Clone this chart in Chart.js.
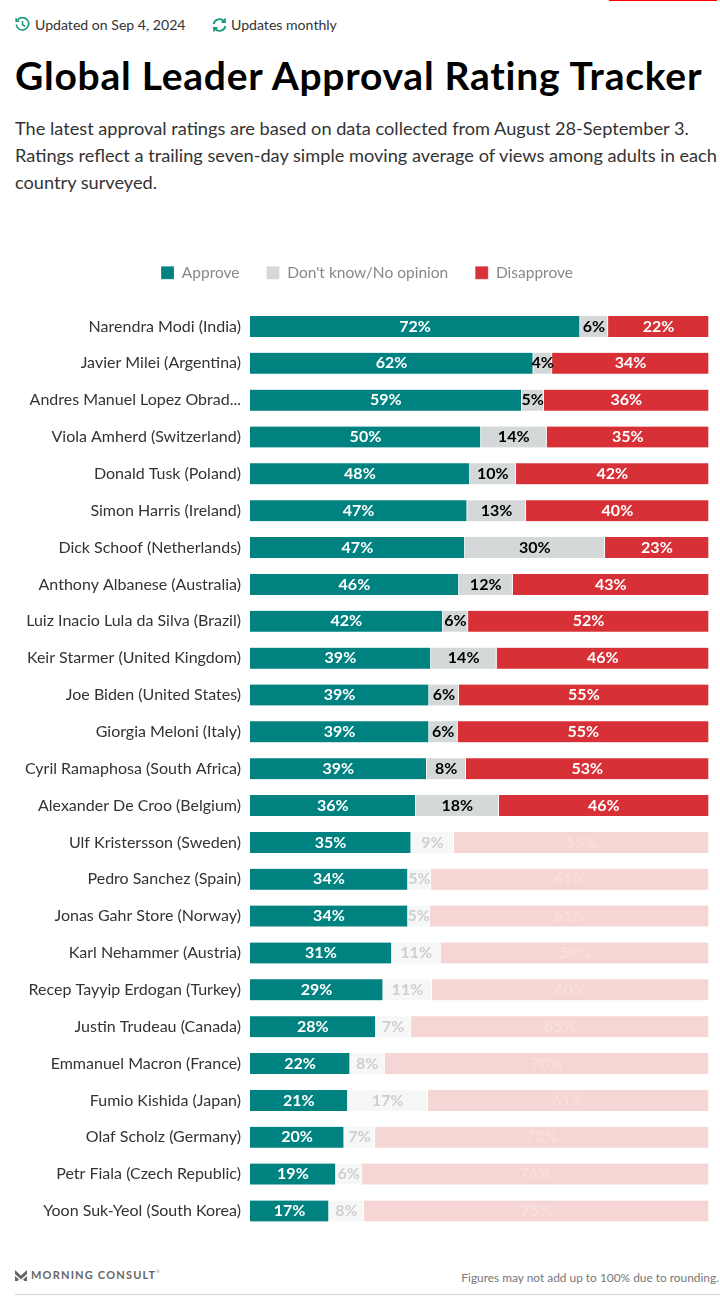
<!DOCTYPE html>
<html>
<head>
<meta charset="utf-8">
<title>Global Leader Approval Rating Tracker</title>
<script src="https://cdn.jsdelivr.net/npm/chart.js@4"></script>
<style>
body { margin: 0; background: #fff; font-family: Lato, sans-serif; width: 720px; height: 1300px; position: relative; overflow: hidden; }
.abs { position: absolute; white-space: nowrap; }
#topline { left: 609px; top: 0; width: 108px; height: 1px; background: #f00; }
.meta { top: 16px; font-size: 14.1px; color: #333; line-height: 18px; }
h1 { margin: 0; left: 15px; top: 51px; font-size: 39px; line-height: 48px; font-weight: 700; letter-spacing: 0.75px; color: #000; }
#intro { left: 15px; top: 115px; font-size: 18.2px; line-height: 27px; color: #333; }
canvas { position: absolute; left: 0; top: 238px; }
#brand { left: 31px; top: 1268px; font-size: 11px; line-height: 14px; font-weight: 700; letter-spacing: 1.2px; color: #666; }
#brand sup { font-size: 4px; font-weight: 400; letter-spacing: 0; vertical-align: 6px; line-height: 0; }
#note { right: 1px; top: 1270px; font-size: 11.9px; line-height: 15px; color: #777; }
#rule { left: 15px; top: 1294px; width: 705px; height: 1px; background: #d4d4d4; }
</style>
</head>
<body>
<div class="abs" id="topline"></div>
<svg class="abs" style="left:15px;top:17px" width="15" height="15" viewBox="0 0 15 15" fill="none" stroke="#1a9a7c" stroke-width="1.6">
  <path d="M2.4 3.2A6.2 6.2 0 1 1 1.3 7.5"/><path d="M1.2 1.2V4.3H4.3"/><path d="M7.5 4v3.8l2.6 1.5"/>
</svg>
<div class="abs meta" style="left:35px">Updated on Sep 4, 2024</div>
<svg class="abs" style="left:212px;top:18px" width="15" height="14" viewBox="0 0 15 14" fill="none" stroke="#1a9a7c" stroke-width="1.8">
  <path d="M1.6 6A6 6 0 0 1 12 3.2"/><path d="M13.4 8A6 6 0 0 1 3 10.8"/><path d="M13 .6V4H9.6"/><path d="M2 13.4V10h3.4"/>
</svg>
<div class="abs meta" style="left:231px">Updates monthly</div>
<h1 class="abs">Global Leader Approval Rating Tracker</h1>
<div class="abs" id="intro">The latest approval ratings are based on data collected from August 28-September 3.<br>Ratings reflect a trailing seven-day simple moving average of views among adults in each<br>country surveyed.</div>
<canvas id="chart" width="720" height="1010"></canvas>
<svg class="abs" style="left:15px;top:1270px" width="12" height="11" viewBox="0 0 12 11" fill="#666">
  <path d="M0 0l6 5.5L12 0v4L6 9.5 0 4z"/><path d="M0 6l4 3.6L2.6 11H0zM12 6L8 9.6 9.4 11H12z"/>
</svg>
<div class="abs" id="brand">MORNING CONSULT<sup>®</sup></div>
<div class="abs" id="note">Figures may not add up to 100% due to rounding.</div>
<div class="abs" id="rule"></div>

<script>
const leaders = [
    "Narendra Modi (India)", "Javier Milei (Argentina)", "Andres Manuel Lopez Obrad...",
    "Viola Amherd (Switzerland)", "Donald Tusk (Poland)", "Simon Harris (Ireland)",
    "Dick Schoof (Netherlands)", "Anthony Albanese (Australia)", "Luiz Inacio Lula da Silva (Brazil)",
    "Keir Starmer (United Kingdom)", "Joe Biden (United States)", "Giorgia Meloni (Italy)",
    "Cyril Ramaphosa (South Africa)", "Alexander De Croo (Belgium)", "Ulf Kristersson (Sweden)",
    "Pedro Sanchez (Spain)", "Jonas Gahr Store (Norway)", "Karl Nehammer (Austria)",
    "Recep Tayyip Erdogan (Turkey)", "Justin Trudeau (Canada)", "Emmanuel Macron (France)",
    "Fumio Kishida (Japan)", "Olaf Scholz (Germany)", "Petr Fiala (Czech Republic)",
    "Yoon Suk-Yeol (South Korea)"
];

// bar lengths (the printed labels are rounded separately)
const approve = [71.9, 61.7, 59.2, 50.3, 47.9, 47.3, 46.8, 45.5, 42.0, 39.4, 39.0, 39.0, 38.5, 36.1, 35.1, 34.4, 34.4, 30.9, 29.0, 27.4, 21.8, 21.3, 20.5, 18.7, 17.2];
const noOpinion = [6.1, 4.1, 4.8, 14.3, 10.0, 12.8, 30.5, 11.7, 5.5, 14.3, 6.5, 6.2, 8.5, 18.1, 9.3, 5.0, 4.7, 10.6, 10.6, 7.6, 7.5, 17.4, 6.7, 5.6, 7.6];
const disapprove = [22.0, 34.2, 36.0, 35.4, 42.1, 39.9, 22.7, 42.8, 52.5, 46.3, 54.5, 54.8, 53.0, 45.8, 55.6, 60.6, 60.9, 58.5, 60.4, 65.0, 70.7, 61.3, 72.8, 75.7, 75.2];

// numbers as printed on the bars
const approveLabels = [72, 62, 59, 50, 48, 47, 47, 46, 42, 39, 39, 39, 39, 36, 35, 34, 34, 31, 29, 28, 22, 21, 20, 19, 17];
const noOpinionLabels = [6, 4, 5, 14, 10, 13, 30, 12, 6, 14, 6, 6, 8, 18, 9, 5, 5, 11, 11, 7, 8, 17, 7, 6, 8];
const disapproveLabels = [22, 34, 36, 35, 42, 40, 23, 43, 52, 46, 55, 55, 53, 46, 55, 61, 61, 58, 60, 65, 70, 61, 73, 76, 75];

const FIRST_FADED_ROW = 14; // rows from Kristersson down are greyed out
const LEGEND_GAP = 17.5; // extra space under the legend

function fadeAfter(color, fadedColor) {
    return (ctx) => ctx.dataIndex >= FIRST_FADED_ROW ? fadedColor : color;
}

const legendGap = {
    id: "legendGap",
    beforeInit(chart) {
        const fit = chart.legend.fit;
        chart.legend.fit = function () {
            fit.call(this);
            this.height += LEGEND_GAP;
        };
    }
};

const barLabels = {
    id: "barLabels",
    afterDatasetsDraw(chart) {
        const ctx = chart.ctx;
        ctx.save();
        ctx.font = "700 16px Lato";
        ctx.textAlign = "center";
        ctx.textBaseline = "middle";
        chart.data.datasets.forEach((dataset, d) => {
            chart.getDatasetMeta(d).data.forEach((bar, i) => {
                const faded = i >= FIRST_FADED_ROW;
                ctx.fillStyle = faded ? dataset.fadedLabelColor : dataset.labelColor;
                ctx.fillText(dataset.printed[i] + "%", (bar.x + bar.base) / 2, bar.y);
            });
        });
        ctx.restore();
    }
};

new Chart(document.getElementById("chart"), {
    type: "bar",
    data: {
        labels: leaders,
        datasets: [
            {
                label: "Approve",
                data: approve,
                printed: approveLabels,
                backgroundColor: "#008280",
                labelColor: "#fff",
                fadedLabelColor: "#fff"
            },
            {
                label: "Don't know/No opinion",
                data: noOpinion,
                printed: noOpinionLabels,
                backgroundColor: fadeAfter("#d5d8d9", "#f6f7f7"),
                labelColor: "#000",
                fadedLabelColor: "#cfcfcf"
            },
            {
                label: "Disapprove",
                data: disapprove,
                printed: disapproveLabels,
                backgroundColor: fadeAfter("#d73036", "#f5d6d4"),
                labelColor: "#fff",
                fadedLabelColor: "#f8dfdd"
            }
        ]
    },
    options: {
        indexAxis: "y",
        responsive: false,
        animation: false,
        layout: { padding: { left: 25, right: 11 } },
        datasets: { bar: { borderWidth: { right: 1 }, borderColor: "#fff", borderSkipped: false, barThickness: 21 } },
        plugins: {
            tooltip: { enabled: false },
            legend: {
                position: "top",
                labels: {
                    boxWidth: 13,
                    boxHeight: 13,
                    padding: 27,
                    color: "#888",
                    font: { family: "Lato", size: 15.5 }
                }
            }
        },
        scales: {
            x: { stacked: true, display: false, min: 0, max: 100 },
            y: {
                stacked: true,
                afterFit(scale) { scale.width = 225; },
                grid: { display: false, drawTicks: false },
                border: { display: false },
                ticks: {
                    autoSkip: false,
                    padding: 9,
                    color: "#333",
                    font: { family: "Lato", size: 16 }
                }
            }
        }
    },
    plugins: [legendGap, barLabels]
});
</script>
</body>
</html>
